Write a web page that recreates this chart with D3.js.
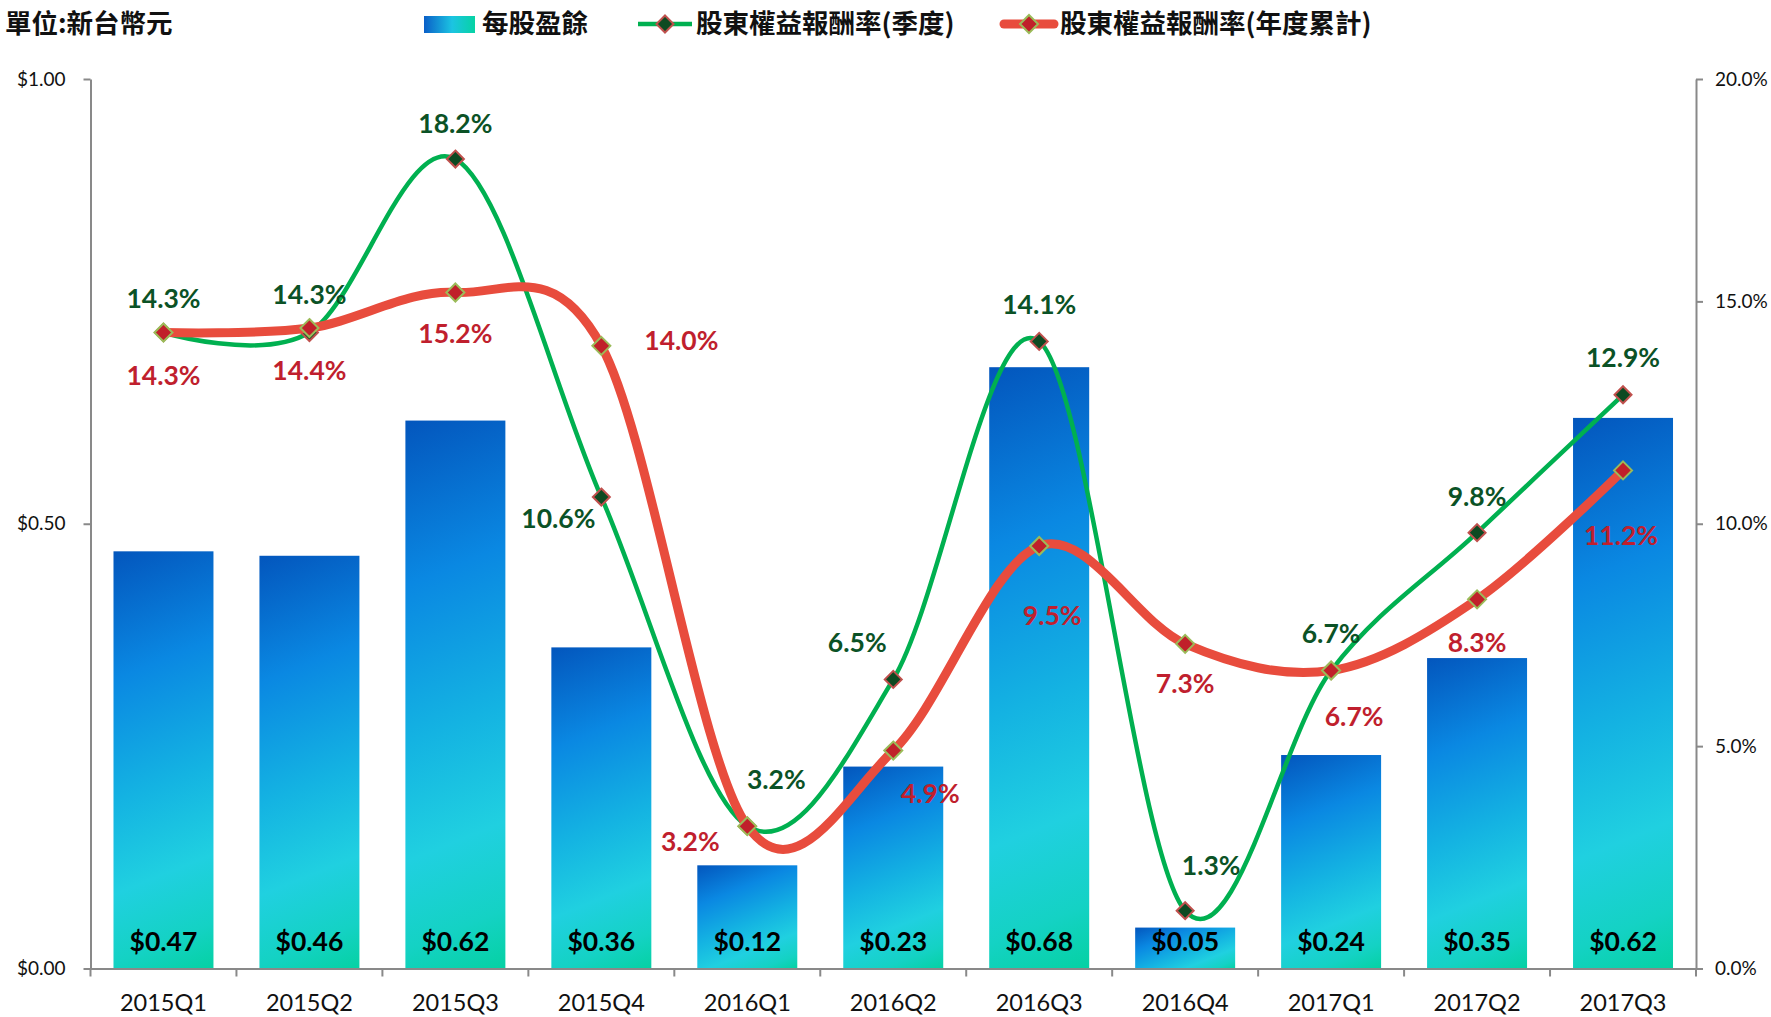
<!DOCTYPE html>
<html>
<head>
<meta charset="utf-8">
<script src="https://cdn.jsdelivr.net/npm/d3@7"></script>
<style>
  body { margin: 0; background: #fff; }
  svg { display: block; }
  .axis path, .axis line { stroke: #898989; stroke-width: 2; }
  .axis text { font-family: Lato, "Noto Sans", sans-serif; font-size: 19px; fill: #111; }
  .cat-label { font-family: Lato, "Noto Sans", sans-serif; font-size: 23.5px; fill: #111; }
  .bar-label { font-family: Lato, "Noto Sans", sans-serif; font-size: 26.5px; font-weight: 700; fill: #000; }
  .pct { font-family: Lato, "Noto Sans", sans-serif; font-size: 26.5px; font-weight: 700; }
  .legend text { font-family: "Noto Sans CJK TC", "Noto Sans", sans-serif; font-size: 26.5px; font-weight: 700; fill: #111; }
</style>
</head>
<body>
<svg id="chart" width="1771" height="1017"></svg>
<script>
// data
const categories = ["2015Q1", "2015Q2", "2015Q3", "2015Q4", "2016Q1", "2016Q2", "2016Q3", "2016Q4", "2017Q1", "2017Q2", "2017Q3"];
const eps = [0.469, 0.464, 0.616, 0.361, 0.116, 0.227, 0.676, 0.046, 0.24, 0.349, 0.619];
const roeQuarter = [14.3, 14.3, 18.2, 10.6, 3.2, 6.5, 14.1, 1.3, 6.7, 9.8, 12.9];
const roeAnnual = [14.3, 14.4, 15.2, 14.0, 3.2, 4.9, 9.5, 7.3, 6.7, 8.3, 11.2];
const epsTicks = [0, 0.5, 1];
const roeTicks = [0, 5, 10, 15, 20];
const legendNames = ["每股盈餘", "股東權益報酬率(季度)", "股東權益報酬率(年度累計)"];
const unitTitle = "單位:新台幣元";

const svg = d3.select("#chart");
const pLeft = 90.5, pRight = 1696, pTop = 79, pBottom = 968.5;

const x = d3.scaleBand()
    .domain(categories)
    .range([pLeft, pRight])
    .paddingInner(0.315)
    .paddingOuter(0.1575);
const step = x.step();
const cx = c => x(c) + x.bandwidth() / 2;

const yL = d3.scaleLinear().domain([0, 1]).range([pBottom, pTop]);
const yR = d3.scaleLinear().domain([0, 20]).range([pBottom, pTop]);

// per-bar gradients (slanted, like the spreadsheet fill)
const stops = [
    [0, "#0356bd"], [0.28, "#0a88e2"], [0.55, "#14b3e2"],
    [0.75, "#20d0e0"], [0.9, "#14d2c4"], [1, "#05d1a3"]
];
const defs = svg.append("defs");
const ang = 68 * Math.PI / 180;
categories.forEach((c, i) => {
    const x0 = x(c), y0 = yL(eps[i]);
    const w = x.bandwidth(), h = pBottom - y0;
    const t = w * Math.cos(ang) + h * Math.sin(ang);
    const g = defs.append("linearGradient")
        .attr("id", "bg" + i)
        .attr("gradientUnits", "userSpaceOnUse")
        .attr("x1", x0).attr("y1", y0)
        .attr("x2", x0 + t * Math.cos(ang)).attr("y2", y0 + t * Math.sin(ang));
    stops.forEach(s => g.append("stop").attr("offset", s[0]).attr("stop-color", s[1]));
});
const lg = defs.append("linearGradient").attr("id", "legendGrad");
[[0, "#0a5fc8"], [0.55, "#1cc4e2"], [1, "#06d3a4"]].forEach(s =>
    lg.append("stop").attr("offset", s[0]).attr("stop-color", s[1]));

// bars
svg.append("g").selectAll("rect")
    .data(categories)
    .join("rect")
    .attr("x", d => x(d))
    .attr("y", (d, i) => yL(eps[i]))
    .attr("width", x.bandwidth())
    .attr("height", (d, i) => pBottom - yL(eps[i]))
    .attr("fill", (d, i) => `url(#bg${i})`);

// axes
svg.append("g")
    .attr("class", "axis")
    .attr("transform", `translate(${pLeft},0)`)
    .call(d3.axisLeft(yL).tickValues(epsTicks).tickSize(7).tickSizeOuter(0).tickPadding(18)
        .tickFormat(d => "$" + d.toFixed(2)));

svg.append("g")
    .attr("class", "axis")
    .attr("transform", `translate(${pRight},0)`)
    .call(d3.axisRight(yR).tickValues(roeTicks).tickSize(7).tickSizeOuter(0).tickPadding(12)
        .tickFormat(d => d.toFixed(1) + "%"));

const xAxis = svg.append("g")
    .attr("class", "axis")
    .attr("transform", `translate(0,${pBottom})`)
    .call(d3.axisBottom(x).tickSize(0).tickSizeOuter(0).tickFormat(""));
xAxis.selectAll(".tick").remove();
// boundary ticks between categories
const bounds = categories.map(c => x(c) - step * x.paddingInner() / 2).concat([pRight]);
xAxis.selectAll(".btick")
    .data(bounds)
    .join("line")
    .attr("x1", d => d).attr("x2", d => d)
    .attr("y1", 0).attr("y2", 8);

svg.append("g").selectAll("text")
    .data(categories)
    .join("text")
    .attr("class", "cat-label")
    .attr("x", d => cx(d))
    .attr("y", 1011)
    .attr("text-anchor", "middle")
    .text(d => d);

// bar value labels, inside base
svg.append("g").selectAll("text")
    .data(categories)
    .join("text")
    .attr("class", "bar-label")
    .attr("x", d => cx(d))
    .attr("y", pBottom - 18)
    .attr("text-anchor", "middle")
    .text((d, i) => "$" + eps[i].toFixed(2));

// lines
const line = d3.line()
    .x(d => cx(d.c))
    .y(d => yR(d.v))
    .curve(d3.curveCardinal.tension(0));

const qPts = categories.map((c, i) => ({ c, v: roeQuarter[i] }));
const aPts = categories.map((c, i) => ({ c, v: roeAnnual[i] }));

const diamond = (s) => `M0,${-s}L${s},0L0,${s}L${-s},0Z`;

svg.append("path")
    .datum(qPts)
    .attr("d", line)
    .attr("fill", "none")
    .attr("stroke", "#00b050")
    .attr("stroke-width", 4.5);

svg.append("g").selectAll("path")
    .data(qPts)
    .join("path")
    .attr("transform", d => `translate(${cx(d.c)},${yR(d.v)})`)
    .attr("d", diamond(8.5))
    .attr("fill", "#0d4a22")
    .attr("stroke", "#c0504d")
    .attr("stroke-width", 2);

svg.append("path")
    .datum(aPts)
    .attr("d", line)
    .attr("fill", "none")
    .attr("stroke", "#e84c3d")
    .attr("stroke-width", 9)
    .attr("stroke-linecap", "round");

svg.append("g").selectAll("path")
    .data(aPts)
    .join("path")
    .attr("transform", d => `translate(${cx(d.c)},${yR(d.v)})`)
    .attr("d", diamond(9))
    .attr("fill", "#c0202a")
    .attr("stroke", "#9bbb59")
    .attr("stroke-width", 2);

// percent labels; offsets are hand-placed like the original
const qOff = [[0, -25], [0, -29], [0, -26], [-43, 31], [29, -37], [-36, -27], [0, -27], [26, -36], [0, -28], [0, -27], [0, -28]];
const aOff = [[0, 52], [0, 52], [0, 51], [80, 4], [-57, 25], [37, 52], [13, 79], [0, 49], [23, 55], [0, 53], [-2, 75]];

svg.append("g").selectAll("text")
    .data(qPts)
    .join("text")
    .attr("class", "pct")
    .attr("fill", "#0b5226")
    .attr("text-anchor", "middle")
    .attr("x", (d, i) => cx(d.c) + qOff[i][0])
    .attr("y", (d, i) => yR(d.v) + qOff[i][1])
    .text(d => d.v.toFixed(1) + "%");

svg.append("g").selectAll("text")
    .data(aPts)
    .join("text")
    .attr("class", "pct")
    .attr("fill", "#c01f2e")
    .attr("text-anchor", "middle")
    .attr("x", (d, i) => cx(d.c) + aOff[i][0])
    .attr("y", (d, i) => yR(d.v) + aOff[i][1])
    .text(d => d.v.toFixed(1) + "%");

// title + legend
const legend = svg.append("g").attr("class", "legend");
legend.append("text").attr("x", 5).attr("y", 33).text(unitTitle);

legend.append("rect")
    .attr("x", 424).attr("y", 16).attr("width", 51).attr("height", 17)
    .attr("fill", "url(#legendGrad)");
legend.append("text").attr("x", 482).attr("y", 33).text(legendNames[0]);

legend.append("line")
    .attr("x1", 638).attr("x2", 692).attr("y1", 24).attr("y2", 24)
    .attr("stroke", "#00b050").attr("stroke-width", 4.5);
legend.append("path")
    .attr("transform", "translate(665,24)")
    .attr("d", diamond(8.5))
    .attr("fill", "#0d4a22").attr("stroke", "#c0504d").attr("stroke-width", 2);
legend.append("text").attr("x", 696).attr("y", 33).text(legendNames[1]);

legend.append("line")
    .attr("x1", 1004).attr("x2", 1054).attr("y1", 24).attr("y2", 24)
    .attr("stroke", "#e84c3d").attr("stroke-width", 9).attr("stroke-linecap", "round");
legend.append("path")
    .attr("transform", "translate(1029,24)")
    .attr("d", diamond(9))
    .attr("fill", "#c0202a").attr("stroke", "#9bbb59").attr("stroke-width", 2);
legend.append("text").attr("x", 1060).attr("y", 33).text(legendNames[2]);
</script>
</body>
</html>
